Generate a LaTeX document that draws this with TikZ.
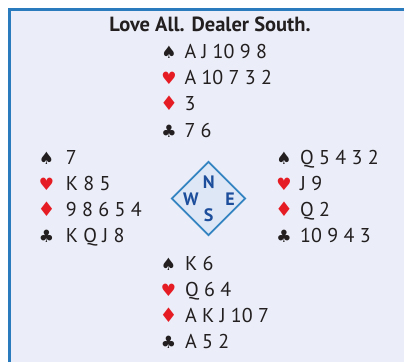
\documentclass[tikz,border=0pt]{standalone}
\usepackage{fontspec}
\setmainfont{PT Sans}
\newfontfamily\symfont{DejaVu Sans}
\usetikzlibrary{shapes.geometric}

\definecolor{panelfill}{RGB}{235,238,248}
\definecolor{panelline}{RGB}{42,122,190}
\definecolor{suitred}{RGB}{230,28,36}
\definecolor{cardink}{RGB}{35,31,32}
\definecolor{compassfill}{RGB}{222,231,245}
\definecolor{compassline}{RGB}{52,132,194}
\definecolor{compassletter}{RGB}{28,78,156}

\newcommand{\spd}{♠}
\newcommand{\hrt}{\textcolor{suitred}{♥}}
\newcommand{\dmd}{\textcolor{suitred}{\fontsize{20}{24}\selectfont ♦}}
\newcommand{\clb}{♣}

\tikzset{
  cards/.style={anchor=base west, inner sep=0pt, text=cardink, font=\fontsize{20}{24}\selectfont},
  suit/.style={anchor=base, inner sep=0pt, text=cardink, font=\fontsize{17}{20}\symfont},
  letter/.style={inner sep=0pt, text=compassletter, font=\bfseries\fontsize{18}{20}\selectfont}
}

\begin{document}
\begin{tikzpicture}[x=1pt, y=-1pt]
\useasboundingbox (0,0) rectangle (404,362);
\fill[panelfill] (9.5,9.5) rectangle (404,362);
\draw[panelline, line width=3pt] (9.5,362) -- (9.5,9.5) -- (404,9.5);

\node[anchor=base, inner sep=0pt, text=cardink, font=\bfseries\fontsize{20.5}{24}\selectfont] (title) at (210,31.5) {Love All. Dealer South.};

% north
\node[suit] (nS) at (169,58) {\spd};   \node[cards] (nScards) at (184.3,58) {A J 10 9 8};
\node[suit] (nH) at (169,84.3) {\hrt}; \node[cards] (nHcards) at (184.3,84.3) {A 10 7 3 2};
\node[suit] (nD) at (169,110.7) {\dmd};\node[cards] (nDcards) at (184.3,110.7) {3};
\node[suit] (nC) at (169,137) {\clb};  \node[cards] (nCcards) at (184.3,137) {7 6};

% west
\node[suit] (wS) at (46.5,164.5) {\spd}; \node[cards] (wScards) at (65.7,164.5) {7};
\node[suit] (wH) at (46.5,190.5) {\hrt}; \node[cards] (wHcards) at (65.7,190.5) {K 8 5};
\node[suit] (wD) at (46.5,216.5) {\dmd}; \node[cards] (wDcards) at (65.7,216.5) {9 8 6 5 4};
\node[suit] (wC) at (46.5,242.5) {\clb}; \node[cards] (wCcards) at (65.7,242.5) {K Q J 8};

% east
\node[suit] (eS) at (284,164.5) {\spd}; \node[cards] (eScards) at (300,164.5) {Q 5 4 3 2};
\node[suit] (eH) at (284,190.5) {\hrt}; \node[cards] (eHcards) at (300,190.5) {J 9};
\node[suit] (eD) at (284,216.5) {\dmd}; \node[cards] (eDcards) at (300,216.5) {Q 2};
\node[suit] (eC) at (284,242.5) {\clb}; \node[cards] (eCcards) at (300,242.5) {10 9 4 3};

% south
\node[suit] (sS) at (168.5,270) {\spd}; \node[cards] (sScards) at (185,270) {K 6};
\node[suit] (sH) at (168.5,296) {\hrt}; \node[cards] (sHcards) at (185,296) {Q 6 4};
\node[suit] (sD) at (168.5,322) {\dmd}; \node[cards] (sDcards) at (185,322) {A K J 10 7};
\node[suit] (sC) at (168.5,348) {\clb}; \node[cards] (sCcards) at (185,348) {A 5 2};

% compass
\node[diamond, draw=compassline, fill=compassfill, line width=1.8pt, minimum size=74pt, inner sep=0pt] (compass) at (208.5,198.5) {};
\node[letter] (N) at (208.7,181.7) {N};
\node[letter] (W) at (191,199) {W};
\node[letter] (E) at (230,199) {E};
\node[letter] (S) at (208.7,215) {S};
\end{tikzpicture}
\end{document}
